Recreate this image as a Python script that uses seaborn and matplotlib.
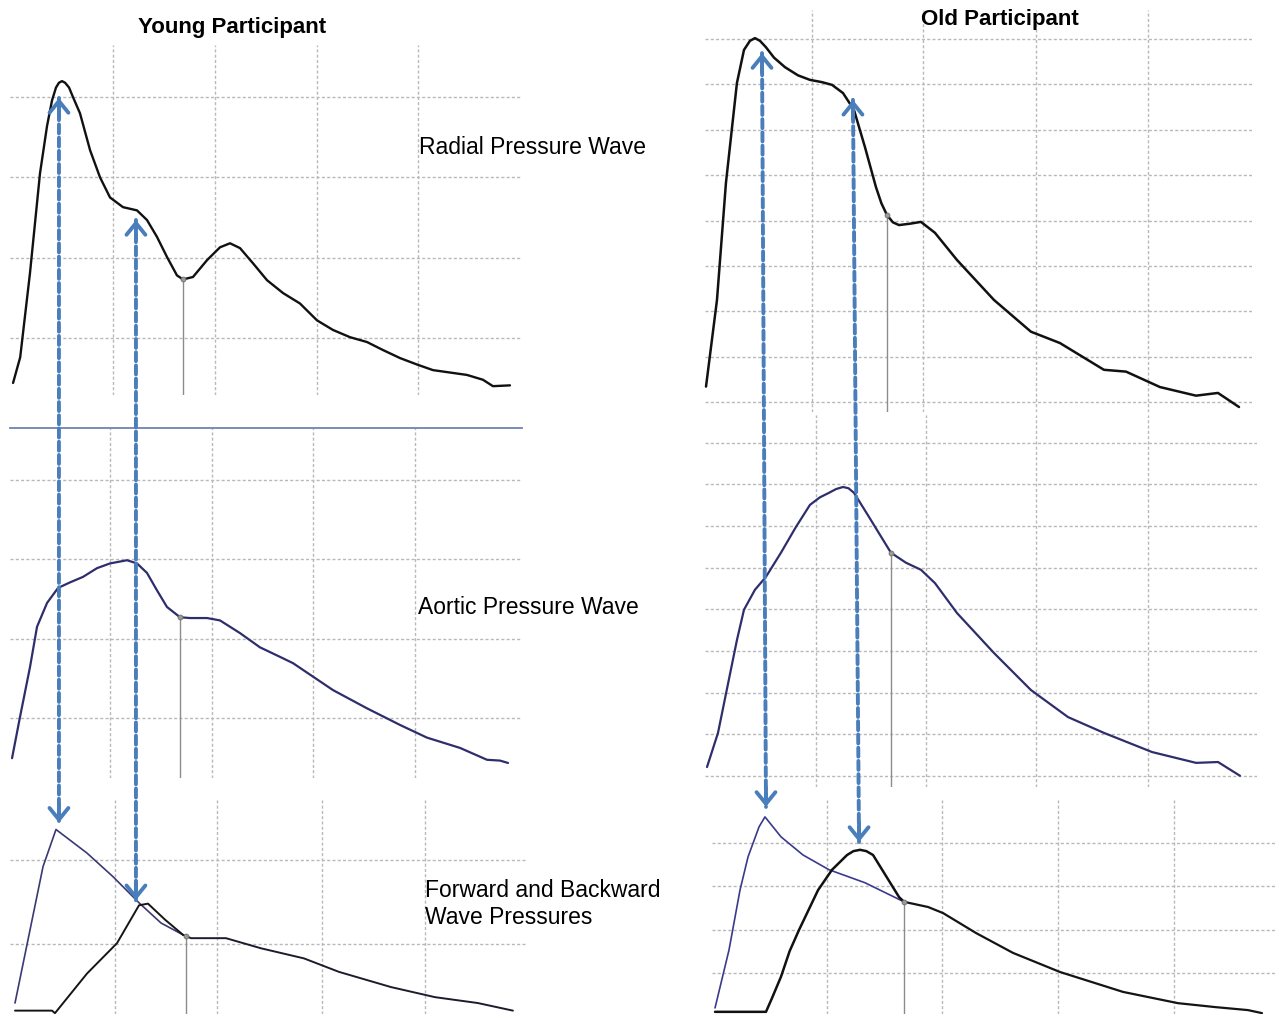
import numpy as np
import matplotlib
matplotlib.use("Agg")
import matplotlib.pyplot as plt
import seaborn as sns
from matplotlib.patches import ConnectionPatch

# ---------------- data (time in ms, pressure in mmHg) ----------------
young_radial_t = [2, 9, 18.6, 28.4, 35.3, 40.2, 44.1, 47.0, 50.0, 53.0, 56.9, 60.8, 67.6, 77.5, 87.3,
                  97.1, 109.8, 123.5, 133.3, 143.1, 152.9, 162.7, 168.6, 178.4, 192.2, 204.9, 214.7,
                  224.5, 237.3, 251, 266.7, 283.3, 300, 315.7, 332.4, 349, 364.7, 381.4, 398, 413.7,
                  447, 462.7, 472.5, 489.2]
young_radial_p = [84.4, 87.6, 98.1, 110.5, 116.4, 119.6, 121.2, 121.8, 122.0, 121.8, 121.2, 120.0,
                  118.0, 113.4, 110.0, 107.5, 106.3, 105.9, 104.7, 102.6, 100.1, 97.8, 97.3, 97.6,
                  99.7, 101.3, 101.8, 101.2, 99.3, 97.2, 95.6, 94.3, 92.2, 91.0, 90.1, 89.5, 88.5,
                  87.5, 86.7, 86.0, 85.4, 84.8, 84.0, 84.1]

young_aortic_t = [1, 8.8, 18.6, 25.5, 35.3, 46.1, 57.8, 70.6, 84.3, 97.1, 113.7, 123.5, 133.3, 143.1,
                  152.9, 165.7, 175.5, 192.2, 204.9, 224.5, 244.1, 263.7, 276.5, 296.1, 315.7, 349,
                  381.4, 407.8, 440.2, 466.7, 479.4, 487.3]
young_aortic_p = [74.9, 80.1, 86.4, 91.5, 94.5, 96.4, 97.1, 97.8, 98.9, 99.5, 99.9, 99.5, 98.3, 96.1,
                  94.0, 92.7, 92.6, 92.6, 92.3, 90.7, 88.9, 87.7, 86.9, 85.2, 83.5, 81.2, 79.1, 77.5,
                  76.2, 74.7, 74.6, 74.3]

young_fwd_t = [3.9, 31.4, 44.1, 74.5, 100, 125.5, 147.1, 168.6, 176.5, 210.8, 245.1, 287.3, 321.6,
               372.5, 415.7, 457.8, 492.2]
young_fwd_p = [83.0, 99.2, 103.6, 100.8, 98.0, 94.9, 92.5, 91.1, 90.7, 90.7, 89.5, 88.3, 86.7, 84.9,
               83.7, 83.0, 82.1]
young_bwd_t = [3.9, 40.2, 43.1, 74.5, 103.9, 125.5, 134.3, 151, 168.6]
young_bwd_p = [82.1, 82.1, 81.8, 86.5, 90.1, 94.6, 94.8, 92.9, 91.1]

old_radial_t = [5.4, 15.2, 23.2, 33, 39.3, 44.6, 49.1, 53.6, 58.9, 66.1, 75.9, 87.5, 98.2, 108.9,
                117.9, 127.7, 137.5, 147.3, 157.1, 162.0, 167, 172.3, 177.7, 187.5, 197.3, 209.8,
                229.5, 262.5, 295.5, 321.4, 360.7, 380.4, 410.7, 442.9, 462.5, 481.3]
old_radial_p = [83.4, 102.5, 128.3, 150.3, 157.6, 159.6, 160.2, 159.6, 158.2, 155.9, 153.8, 152.0,
                151.0, 150.5, 149.9, 148.1, 144.4, 136.2, 127.4, 123.8, 121.2, 119.6, 119.0, 119.3,
                119.7, 117.3, 111.3, 102.5, 95.5, 93.0, 87.1, 86.7, 83.3, 81.4, 82.0, 78.9]

old_aortic_t = [6.3, 16.1, 33, 39.3, 49.1, 58.9, 72.3, 85.7, 98.2, 107.0, 115.2, 121.5, 127.7, 132.6,
                137.5, 150.9, 170.5, 183.9, 197.3, 209.8, 229.5, 262.5, 295.5, 328.6, 360.7, 403.6,
                442.9, 462.5, 482.1]
old_aortic_p = [62.1, 70.3, 92.6, 99.9, 104.7, 107.8, 113.6, 119.8, 125.1, 126.9, 128.0, 128.9,
                129.4, 129.1, 128.0, 122.2, 113.6, 111.2, 109.5, 106.3, 99.1, 89.5, 80.6, 74.1,
                70.3, 65.7, 63.1, 63.3, 60.0]

old_fwd_t = [13.4, 25.9, 35.7, 42.9, 52.7, 58, 72.3, 92, 115.2, 147.3, 182.1, 203.6, 217, 246.4,
             279.5, 321.4, 377.7, 426.8, 459.8, 489.3, 501.8]
old_fwd_p = [81.9, 95.3, 109.1, 116.8, 123.7, 126.0, 121.4, 117.2, 113.8, 110.8, 106.4, 105.2, 103.8,
             99.2, 94.6, 90.2, 85.6, 83.0, 82.1, 81.4, 80.7]
old_bwd_t = [13.4, 58.9, 64.0, 72.3, 80.0, 88.4, 105.4, 117.9, 131.3, 137.0, 142.9, 148.5, 154.5,
             164.3, 177.7, 182.1]
old_bwd_p = [81.0, 81.0, 84.0, 89.1, 95.0, 99.9, 109.1, 113.8, 117.2, 118.1, 118.4, 118.1, 117.2,
             113.1, 107.5, 106.4]

# dicrotic notch times
notch_young = {"radial": 168.6, "aortic": 165.7, "fb": 172.0}
notch_old = {"radial": 167.0, "aortic": 170.5, "fb": 182.1}

# arrow end points (t, p): top (radial panel) -> bottom (forward/backward panel)
young_arrows_top = [(47.0, 119.9), (122.5, 104.7)]
young_arrows_bot = [(47.0, 104.4), (122.5, 95.2)]
old_arrows_top = [(55.4, 156.9), (136.6, 146.6)]
old_arrows_bot = [(58.9, 128.3), (142.0, 120.2)]

# grid positions
grid_young_radial = ([100, 200, 300, 399], [90, 100, 110, 120])
grid_young_aortic = ([97, 197, 296, 396], [80, 90, 100, 110])
grid_young_fb = ([102, 202, 305, 406], [90, 100])
grid_old_radial = ([100, 199, 300, 400], list(range(80, 161, 10)))
grid_old_aortic = ([104, 202, 300, 400], list(range(60, 141, 10)))
grid_old_fb = ([113, 216, 320, 423], [90, 100, 110, 120])

# ---------------- style ----------------
sns.set_theme(style="white")
plt.rcParams["font.family"] = ["Liberation Sans", "DejaVu Sans"]
plt.rcParams["text.color"] = "black"

W, H = 1276, 1014
fig = plt.figure(figsize=(W / 100, H / 100), dpi=100)
fig.patch.set_facecolor("white")

GRID = "#b9b9b9"
NAVY = "#2e2e6c"
ARROW = "#4a7ebb"


def add_panel(box, xlim, ylim, grid):
    x0, y0, x1, y1 = box
    ax = fig.add_axes([x0 / W, 1 - y1 / H, (x1 - x0) / W, (y1 - y0) / H])
    ax.set_xlim(*xlim)
    ax.set_ylim(*ylim)
    ax.set_xticks(grid[0])
    ax.set_yticks(grid[1])
    ax.tick_params(length=0, labelbottom=False, labelleft=False)
    ax.grid(True, color=GRID, ls=(0, (2.2, 1.6)), lw=1.0)
    for s in ax.spines.values():
        s.set_visible(False)
    ax.patch.set_alpha(0)
    return ax


def curve(ax, t, p, color, lw):
    sns.lineplot(x=t, y=p, ax=ax, color=color, lw=lw, sort=False, estimator=None,
                 clip_on=False, zorder=3, solid_joinstyle="round", solid_capstyle="round")


def split_curve(ax, t, p, t_split, c1, lw1, c2, lw2):
    t = np.asarray(t)
    p = np.asarray(p)
    a = t <= t_split
    b = t >= t_split
    curve(ax, t[a], p[a], c1, lw1)
    curve(ax, t[b], p[b], c2, lw2)


def notch(ax, t_notch, t, p):
    pn = np.interp(t_notch, t, p)
    ax.vlines(t_notch, ax.get_ylim()[0], pn, color="#8c8c8c", lw=1.0, zorder=2)
    ax.plot([t_notch], [pn], "o", ms=3.5, mfc="#9a9a9a", mec="#6e6e6e", mew=0.6, zorder=4)


# ---- young column ----
ax_yr = add_panel((10, 45, 522, 395), (-1, 501), (82.9, 126.5), grid_young_radial)
curve(ax_yr, young_radial_t, young_radial_p, "#111111", 1.7)
notch(ax_yr, notch_young["radial"], young_radial_t, young_radial_p)

ax_ya = add_panel((10, 428, 522, 778), (-1, 501), (72.4, 116.6), grid_young_aortic)
ax_ya.spines["top"].set_visible(True)
ax_ya.spines["top"].set_color("#6f82b3")
ax_ya.spines["top"].set_linewidth(1.3)
curve(ax_ya, young_aortic_t, young_aortic_p, NAVY, 1.6)
notch(ax_ya, notch_young["aortic"], young_aortic_t, young_aortic_p)

ax_yf = add_panel((10, 800, 527, 1014), (-1, 506), (81.7, 107.1), grid_young_fb)
split_curve(ax_yf, young_fwd_t, young_fwd_p, 168.6, "#3a3a72", 1.2, "#1c1c2c", 1.4)
curve(ax_yf, young_bwd_t, young_bwd_p, "#151515", 1.4)
notch(ax_yf, notch_young["fb"], young_fwd_t, young_fwd_p)

# ---- old column ----
ax_or = add_panel((705, 10, 1252, 412), (4.5, 492.9), (77.8, 166.4), grid_old_radial)
curve(ax_or, old_radial_t, old_radial_p, "#111111", 1.8)
notch(ax_or, notch_old["radial"], old_radial_t, old_radial_p)

ax_oa = add_panel((705, 415, 1257, 787), (4.5, 497.3), (57.3, 146.7), grid_old_aortic)
curve(ax_oa, old_aortic_t, old_aortic_p, NAVY, 1.6)
notch(ax_oa, notch_old["aortic"], old_aortic_t, old_aortic_p)

ax_of = add_panel((712, 800, 1276, 1014), (10.7, 514.3), (80.5, 129.9), grid_old_fb)
split_curve(ax_of, old_fwd_t, old_fwd_p, notch_old["fb"], "#3a3a8c", 1.2, "#141414", 1.6)
curve(ax_of, old_bwd_t, old_bwd_p, "#111111", 1.8)
notch(ax_of, notch_old["fb"], old_fwd_t, old_fwd_p)


# ---- dashed double arrows ----
def double_arrow(ax_top, ax_bot, top, bot):
    con = ConnectionPatch(xyA=top, coordsA="data", axesA=ax_top,
                          xyB=bot, coordsB="data", axesB=ax_bot,
                          color=ARROW, lw=2.8, ls=(0, (2.3, 1.1)), zorder=10)
    fig.add_artist(con)
    style = "->,head_length=0.42,head_width=0.34"
    for ax, xy, off in ((ax_top, top, -14), (ax_bot, bot, 14)):
        ax.annotate("", xy=xy, xytext=(0, off), textcoords="offset points",
                    arrowprops=dict(arrowstyle=style, color=ARROW, lw=2.8, mutation_scale=20,
                                    shrinkA=0, shrinkB=0, joinstyle="miter"),
                    annotation_clip=False, zorder=11)


for top, bot in zip(young_arrows_top, young_arrows_bot):
    double_arrow(ax_yr, ax_yf, top, bot)
for top, bot in zip(old_arrows_top, old_arrows_bot):
    double_arrow(ax_or, ax_of, top, bot)

# ---- texts ----
fig.text(232 / W, 1 - 28 / H, "Young Participant", ha="center", va="center",
         fontsize=16, fontweight="bold")
fig.text(1000 / W, 1 - 20 / H, "Old Participant", ha="center", va="center",
         fontsize=16, fontweight="bold")
fig.text(419 / W, 1 - 148 / H, "Radial Pressure Wave", ha="left", va="center", fontsize=16.5)
fig.text(418 / W, 1 - 608 / H, "Aortic Pressure Wave", ha="left", va="center", fontsize=16.5)
fig.text(425 / W, 1 - 904 / H, "Forward and Backward\nWave Pressures", ha="left", va="center",
         fontsize=16.5, linespacing=1.18)

fig.savefig("out.png", dpi=100)
